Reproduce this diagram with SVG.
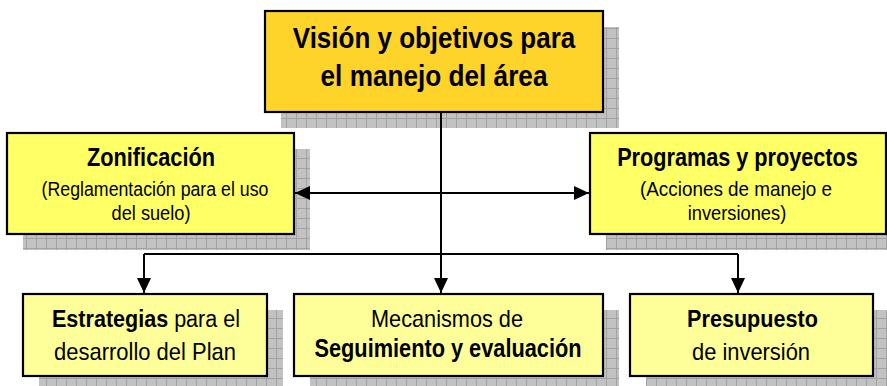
<svg xmlns="http://www.w3.org/2000/svg" width="887" height="386" viewBox="0 0 887 386">
  <defs>
    <pattern id="grid" patternUnits="userSpaceOnUse" x="6" y="8" width="10" height="10">
      <rect width="10" height="10" fill="#c2c2c2"/>
      <path d="M0.5 0V10M0 0.5H10" stroke="#a2a2a2" stroke-width="1"/>
    </pattern>
    <marker id="arr" viewBox="0 0 15 14" markerWidth="15" markerHeight="14" refX="15" refY="7" orient="auto-start-reverse" markerUnits="userSpaceOnUse">
      <path d="M0 0L15 7L0 14Z" fill="#000"/>
    </marker>
  </defs>
  <style>
    .shadow { fill: url(#grid); }
    .box { stroke: #000; stroke-width: 2.2; }
    .gold { fill: #FFD42A; }
    .mid { fill: #FFFF66; }
    .low { fill: #FFFF99; }
    text { font-family: "Liberation Sans", Arial, sans-serif; fill: #000; text-anchor: middle; }
    .b { font-weight: bold; }
    .r { font-weight: normal; }
    .conn { fill: none; stroke: #000; stroke-width: 2; }
  </style>

  <g id="vision">
    <rect class="shadow" x="281" y="27" width="338" height="101"/>
    <rect class="box gold" x="265" y="11" width="338" height="101"/>
    <text class="b" font-size="29" transform="translate(434 48) scale(0.896 1)">Visión y objetivos para</text>
    <text class="b" font-size="29" transform="translate(434 86) scale(0.903 1)">el manejo del área</text>
  </g>

  <g id="zonificacion">
    <rect class="shadow" x="23" y="149" width="287" height="101"/>
    <rect class="box mid" x="7" y="133" width="287" height="101"/>
    <text class="b" font-size="25" transform="translate(151 166) scale(0.87 1)">Zonificación</text>
    <text font-size="21" transform="translate(155 195.5) scale(0.845 1)">(Reglamentación para el uso</text>
    <text font-size="21" transform="translate(151 219.5) scale(0.868 1)">del suelo)</text>
  </g>

  <g id="programas">
    <rect class="shadow" x="606" y="149" width="296" height="101"/>
    <rect class="box mid" x="590" y="133" width="296" height="101"/>
    <text class="b" font-size="25" transform="translate(737.5 166) scale(0.867 1)">Programas y proyectos</text>
    <text font-size="21" transform="translate(736 195.5) scale(0.9 1)">(Acciones de manejo e</text>
    <text font-size="21" transform="translate(737 219.5) scale(0.87 1)">inversiones)</text>
  </g>

  <g id="estrategias">
    <rect class="shadow" x="39" y="310" width="244" height="82"/>
    <rect class="box low" x="23" y="294" width="244" height="82"/>
    <text font-size="24" transform="translate(146 326.5) scale(0.898 1)"><tspan class="b">Estrategias</tspan><tspan class="r"> para el</tspan></text>
    <text font-size="24" transform="translate(145 359.5) scale(0.916 1)">desarrollo del Plan</text>
  </g>

  <g id="mecanismos">
    <rect class="shadow" x="310" y="310" width="309" height="82"/>
    <rect class="box low" x="294" y="294" width="309" height="82"/>
    <text font-size="23" transform="translate(447 326.5) scale(0.944 1)">Mecanismos de</text>
    <text class="b" font-size="25" transform="translate(448 356.5) scale(0.87 1)">Seguimiento y evaluación</text>
  </g>

  <g id="presupuesto">
    <rect class="shadow" x="646" y="310" width="243" height="82"/>
    <rect class="box low" x="630" y="294" width="243" height="82"/>
    <text class="b" font-size="24" transform="translate(752.5 327) scale(0.9 1)">Presupuesto</text>
    <text font-size="23" transform="translate(751 360) scale(0.952 1)">de inversión</text>
  </g>

  <g id="connectors">
    <path class="conn" d="M441 113V254"/>
    <path class="conn" d="M144 254H738"/>
    <path class="conn" d="M144 254V293" marker-end="url(#arr)"/>
    <path class="conn" d="M441 254V293" marker-end="url(#arr)"/>
    <path class="conn" d="M738 254V293" marker-end="url(#arr)"/>
    <path class="conn" d="M295 193H589" marker-start="url(#arr)" marker-end="url(#arr)"/>
  </g>
</svg>
